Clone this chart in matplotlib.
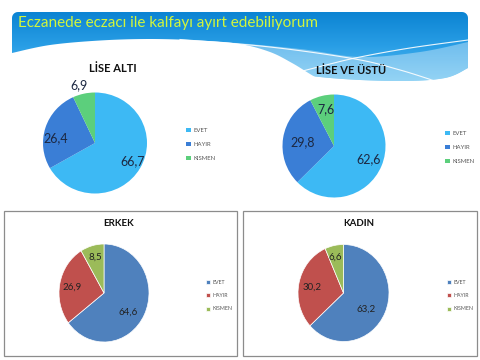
import numpy as np
import matplotlib
matplotlib.use("Agg")
import matplotlib.pyplot as plt
from matplotlib.patches import Polygon, Rectangle
from matplotlib.colors import LinearSegmentedColormap

# ---------------- data ----------------
title = "Eczanede eczacı ile kalfayı ayırt edebiliyorum"
categories = ["EVET", "HAYIR", "KISMEN"]
lise_alti = [66.7, 26.4, 6.9]
lise_ustu = [62.6, 29.8, 7.6]
erkek = [64.6, 26.9, 8.5]
kadin = [63.2, 30.2, 6.6]
chart_titles = ["LİSE ALTI", "LİSE VE ÜSTÜ", "ERKEK", "KADIN"]

FONT = ["Lato", "DejaVu Sans"]
plt.rcParams["font.family"] = FONT

W, H = 480, 360
fig = plt.figure(figsize=(4.8, 3.6), dpi=100)
fig.patch.set_facecolor("white")
bg = fig.add_axes([0, 0, 1, 1])
bg.set_xlim(0, W)
bg.set_ylim(H, 0)
bg.axis("off")


def catmull(pts, n=20):
    pts = np.asarray(pts, float)
    p = np.vstack([pts[0], pts, pts[-1]])
    out = []
    for i in range(1, len(p) - 2):
        p0, p1, p2, p3 = p[i - 1], p[i], p[i + 1], p[i + 2]
        for t in np.linspace(0, 1, n, endpoint=False):
            t2, t3 = t * t, t * t * t
            out.append(0.5 * ((2 * p1) + (-p0 + p2) * t + (2 * p0 - 5 * p1 + 4 * p2 - p3) * t2
                              + (-p0 + 3 * p1 - 3 * p2 + p3) * t3))
    out.append(p[-2])
    return np.array(out)


# ---------------- banner ----------------
L, R, T = 12, 468, 12
rc = 6
ang = np.linspace(np.pi, 1.5 * np.pi, 8)
top_left = np.c_[L + rc + rc * np.cos(ang), T + rc + rc * np.sin(ang)]
ang2 = np.linspace(1.5 * np.pi, 2 * np.pi, 8)
top_right = np.c_[R - rc + rc * np.cos(ang2), T + rc + rc * np.sin(ang2)]
bottom = catmull([(R, 68), (445, 78), (400, 81), (330, 78), (250, 68), (150, 58), (L, 56)])
banner_pts = np.vstack([[(L, 56)], top_left, top_right, bottom])
banner = Polygon(banner_pts, closed=True, facecolor="none", edgecolor="none")
bg.add_patch(banner)
grad = np.linspace(0, 1, 100).reshape(-1, 1)
cmap = LinearSegmentedColormap.from_list("b", ["#0c84d3", "#2a9fe6", "#5cbdf0"])
im = bg.imshow(grad, cmap=cmap, extent=(L, R, 82, T), aspect="auto", zorder=1)
im.set_clip_path(banner)

# light wave band (upper curve L->R, then bottom curve R->L)
up = catmull([(140, 41), (220, 42), (300, 49), (360, 57), (420, 52), (R, 42)])
low = bottom[bottom[:, 0] >= 140]
band = Polygon(np.vstack([up, low]), closed=True,
               facecolor="white", alpha=0.35, edgecolor="none", zorder=2)
bg.add_patch(band)
band.set_clip_path(banner)

# white wave on the left
wave_top = catmull([(L, 53), (50, 45), (100, 40.5), (150, 39), (200, 40.5), (240, 44),
                    (270, 52), (292, 63), (310, 74), (330, 86)])
white = Polygon(np.vstack([[(L - 2, 95)], wave_top, [(330, 95)]]), closed=True,
                facecolor="white", edgecolor="none", zorder=3)
bg.add_patch(white)

# thin white streaks
s1 = catmull([(180, 39.5), (270, 47), (355, 59), (400, 70), (435, 81)])
s2 = catmull([(295, 73), (330, 64), (360, 57), (410, 48), (R, 40)])
for s in (s1, s2):
    ln, = bg.plot(s[:, 0], s[:, 1], color="white", lw=0.8, alpha=0.9, zorder=4)
    ln.set_clip_path(banner)

bg.text(18, 23.5, title, color="#d2f53c", fontsize=11, ha="left", va="center", zorder=5)

# ---------------- boxes for bottom charts ----------------
bg.add_patch(Rectangle((3.5, 211), 233.5, 145, facecolor="white", edgecolor="#8c8c8c", lw=0.9, zorder=1))
bg.add_patch(Rectangle((243, 211), 234, 145, facecolor="white", edgecolor="#8c8c8c", lw=0.9, zorder=1))

top_colors = ["#3db9f4", "#3a7ed6", "#5ccf7c"]
bot_colors = ["#4f81bd", "#c0504d", "#9bbb59"]


def draw_pie(vals, cx, cy, rx, ry, colors, edge, dists, offs, lsize, lcolor,
             ttl, tx, ty, tsize, legx, legy, legsize, legsp, legcolor):
    ax = fig.add_axes([(cx - rx) / W, 1 - (cy + ry) / H, 2 * rx / W, 2 * ry / H])
    wedges, _ = ax.pie(vals, colors=colors, startangle=90, counterclock=False,
                       wedgeprops=dict(linewidth=edge, edgecolor="white"))
    ax.set_xlim(-1, 1)
    ax.set_ylim(-1, 1)
    ax.set_aspect("auto")
    for w, v, d, o in zip(wedges, vals, dists, offs):
        a = np.deg2rad((w.theta1 + w.theta2) / 2 + o)
        ax.text(d * np.cos(a), d * np.sin(a), f"{v:.1f}".replace(".", ","),
                ha="center", va="center", fontsize=lsize, color=lcolor, clip_on=False)
    bg.text(tx, ty, ttl, ha="center", va="center", fontsize=tsize, fontweight="bold",
            color="#111111", zorder=6)
    fig.legend(wedges, categories, loc="upper left",
               bbox_to_anchor=(legx / W, 1 - legy / H), frameon=False,
               fontsize=legsize, handlelength=0.8, handleheight=0.8,
               handletextpad=0.4, labelspacing=legsp, borderpad=0,
               borderaxespad=0, labelcolor=legcolor)


draw_pie(lise_alti, 95, 143, 52, 50.5, top_colors, 0, [0.80, 0.77, 1.18], [4, 10, 3],
         9, "#1c2842", chart_titles[0], 113, 68, 8, 186, 127.5, 4.3, 1.45, "#555555")
draw_pie(lise_ustu, 334, 146, 51.5, 51.5, top_colors, 0, [0.71, 0.61, 0.74], [2, 2, -2],
         9, "#1c2842", chart_titles[1], 351, 70, 8, 445, 130.5, 4.3, 1.45, "#555555")
draw_pie(erkek, 104, 293, 45, 49, bot_colors, 0.5, [0.66, 0.72, 0.76], [-10, 1, 0],
         7, "#222222", chart_titles[2], 119, 224, 7, 206, 279.5, 3.8, 1.6, "#555555")
draw_pie(kadin, 343.5, 293, 45.5, 48.5, bot_colors, 0.5, [0.60, 0.70, 0.77], [-11, 2, 2],
         7, "#222222", chart_titles[3], 359, 224, 7, 447, 279.5, 3.8, 1.6, "#555555")

fig.savefig("out.png", dpi=100)
